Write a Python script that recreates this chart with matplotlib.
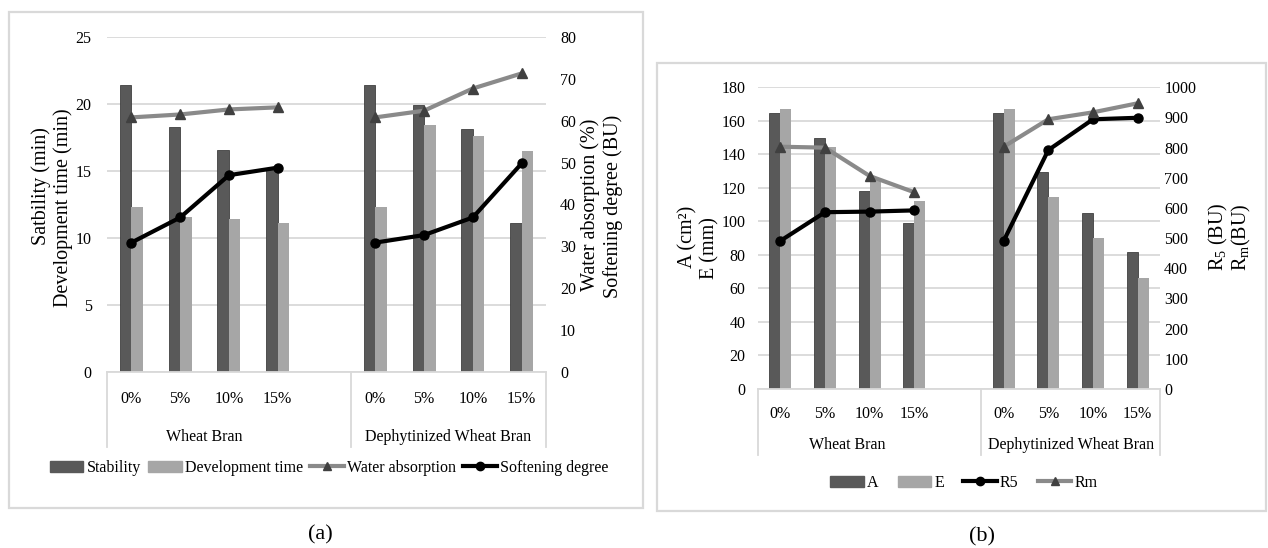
import numpy as np
import matplotlib
matplotlib.use("Agg")
import matplotlib.pyplot as plt
from matplotlib.patches import Rectangle, Patch
from matplotlib.lines import Line2D

plt.rcParams['font.family'] = ['Liberation Serif', 'DejaVu Serif']
plt.rcParams['mathtext.fontset'] = 'custom'
plt.rcParams['mathtext.rm'] = 'Liberation Serif'
plt.rcParams['mathtext.it'] = 'Liberation Serif:italic'

nan = np.nan
categories = ['0%', '5%', '10%', '15%', '', '0%', '5%', '10%', '15%']
groups = ['Wheat Bran', 'Dephytinized Wheat Bran']

# (a) farinograph
stability = [21.4, 18.3, 16.6, 15.2, nan, 21.4, 19.9, 18.1, 11.1]
development_time = [12.3, 11.6, 11.4, 11.1, nan, 12.3, 18.45, 17.6, 16.5]
water_absorption = [60.8, 61.5, 62.7, 63.2, nan, 60.8, 62.4, 67.7, 71.3]
softening_degree = [30.9, 36.9, 47.0, 48.8, nan, 30.9, 32.7, 36.9, 49.8]

# (b) extensograph
A = [164.5, 149.6, 118.3, 98.9, nan, 164.5, 129.6, 104.8, 81.5]
E = [167.0, 144.2, 125.0, 112.2, nan, 167.0, 114.4, 89.9, 66.0]
R5 = [491, 586, 588, 592, nan, 491, 792, 894, 899]
Rm = [803, 800, 706, 652, nan, 803, 894, 917, 947]

W, H = 1268, 548
fig = plt.figure(figsize=(W / 100, H / 100), dpi=100)
fig.patch.set_facecolor('white')

DARK = '#595959'
LIGHT = '#a6a6a6'
GRAYLINE = '#8a8a8a'
GRID = '#d9d9d9'


def rect(x0, y0, x1, y1):
    return [x0 / W, 1 - y1 / H, (x1 - x0) / W, (y1 - y0) / H]


def frame(x0, y0, x1, y1):
    fig.patches.append(Rectangle((x0 / W, 1 - y1 / H), (x1 - x0) / W, (y1 - y0) / H,
                                 transform=fig.transFigure, fill=False,
                                 edgecolor=GRID, lw=1.6))


def vtext(x, y, s):
    fig.text(x / W, 1 - y / H, s, rotation=90, ha='center', va='center', fontsize=14.5)


def make_chart(box, bw, left_lim, left_step, right_lim, right_step,
               bars, lines, tick_pad, group_off, div_end, lpad, rpad):
    x0, y0, x1, y1 = box
    ax = fig.add_axes(rect(x0, y0, x1, y1))
    ax2 = ax.twinx()
    x = np.arange(len(categories))
    (v1, c1), (v2, c2) = bars
    ax.bar(x - bw / 2, v1, bw, color=c1, edgecolor='#404040', lw=0.6, zorder=2)
    ax.bar(x + bw / 2, v2, bw, color=c2, zorder=2)
    for vals, col, mk, mcol in lines:
        ax2.plot(x, vals, color=col, lw=3.0, marker=mk, ms=6.5,
                 markerfacecolor=mcol, markeredgecolor=mcol, solid_capstyle='butt')
    ax.set_xlim(-0.5, len(categories) - 0.5)
    ax.set_ylim(0, left_lim)
    ax.set_yticks(np.arange(0, left_lim + 0.1, left_step))
    ax2.set_ylim(0, right_lim)
    ax2.set_yticks(np.arange(0, right_lim + 0.1, right_step))
    ax.yaxis.grid(True, color=GRID, lw=1.3, zorder=0)
    ax.set_axisbelow(True)
    for a in (ax, ax2):
        for s in a.spines.values():
            s.set_visible(False)
    ax.spines['bottom'].set_visible(True)
    ax.spines['bottom'].set_color(GRID)
    ax.spines['bottom'].set_linewidth(1.3)
    ax.set_xticks(x)
    ax.set_xticklabels(categories, fontsize=11.5)
    ax.tick_params(axis='x', length=0, pad=tick_pad)
    ax.tick_params(axis='y', length=0, pad=lpad, labelsize=11.5)
    ax2.tick_params(axis='y', length=0, pad=rpad, labelsize=11.5)
    tr = ax.get_xaxis_transform()
    h = y1 - y0
    for xd in (-0.5, 4.5, len(categories) - 0.5):
        ax.plot([xd, xd], [0, -div_end / h], transform=tr, color=GRID, lw=1.3,
                clip_on=False)
    ax.text(1.5, -group_off / h, groups[0], transform=tr, ha='center', va='center',
            fontsize=11.5)
    ax.text(6.5, -group_off / h, groups[1], transform=tr, ha='center', va='center',
            fontsize=11.5)
    return ax, ax2


# ---------- (a) ----------
frame(9, 12, 643, 508)
axa, axa2 = make_chart((107, 37, 546, 372), 0.236, 25, 5, 80, 10,
                       [(stability, DARK), (development_time, LIGHT)],
                       [(water_absorption, GRAYLINE, '^', '#404040'),
                        (softening_degree, 'black', 'o', 'black')],
                       tick_pad=14, group_off=65, div_end=75, lpad=11, rpad=10)
vtext(41, 186, 'Satbility (min)')
vtext(63, 208, 'Development time (min)')
vtext(590, 205, 'Water absorption (%)')
vtext(613, 206, 'Softening degree (BU)')
handles_a = [Patch(color=DARK), Patch(color=LIGHT),
             Line2D([], [], color=GRAYLINE, lw=3, marker='^', ms=6, mfc='#404040', mec='#404040'),
             Line2D([], [], color='black', lw=3, marker='o', ms=6)]
fig.legend(handles_a, ['Stability', 'Development time', 'Water absorption', 'Softening degree'],
           loc='center', bbox_to_anchor=(329 / W, 1 - 468 / H), ncol=4, frameon=False,
           fontsize=11.5, handlelength=2.1, handletextpad=0.2, columnspacing=0.45,
           borderpad=0, borderaxespad=0)
fig.text(320 / W, 1 - 535 / H, '(a)', ha='center', va='center', fontsize=16)

# ---------- (b) ----------
frame(657, 63, 1266, 511)
axb, axb2 = make_chart((758, 87.3, 1160, 389), 0.245, 180, 20, 1000, 100,
                       [(A, DARK), (E, LIGHT)],
                       [(R5, 'black', 'o', 'black'),
                        (Rm, GRAYLINE, '^', '#404040')],
                       tick_pad=12, group_off=56, div_end=66, lpad=9, rpad=3)
vtext(688, 237, 'A (cm²)')
vtext(710, 248, 'E (mm)')
vtext(1218, 237, 'R$_5$ (BU)')
vtext(1241, 237, 'R$_\\mathrm{m}$(BU)')
handles_b = [Patch(color=DARK), Patch(color=LIGHT),
             Line2D([], [], color='black', lw=3, marker='o', ms=6),
             Line2D([], [], color=GRAYLINE, lw=3, marker='^', ms=6, mfc='#404040', mec='#404040')]
fig.legend(handles_b, ['A', 'E', 'R5', 'Rm'],
           loc='center', bbox_to_anchor=(964 / W, 1 - 483 / H), ncol=4, frameon=False,
           fontsize=11.5, handlelength=2.1, handletextpad=0.2, columnspacing=1.2,
           borderpad=0, borderaxespad=0)
fig.text(982 / W, 1 - 537 / H, '(b)', ha='center', va='center', fontsize=16)

fig.savefig('out.png', dpi=100, facecolor='white')
